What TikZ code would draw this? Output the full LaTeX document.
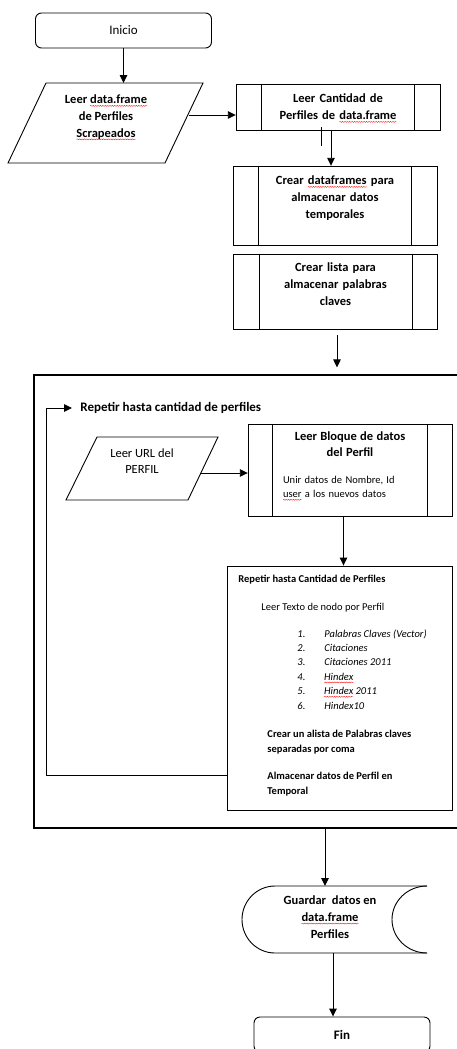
\documentclass[tikz,border=0pt]{standalone}
\usepackage{fontspec}
\setmainfont{Carlito}
\usetikzlibrary{arrows.meta, decorations.pathmorphing}

\newlength{\wavylen}
\newcommand{\wavy}[1]{\leavevmode\settowidth{\wavylen}{#1}\rlap{\tikz[overlay, baseline=0pt]\draw[red, line width=0.35pt, sharp corners, decorate, decoration={snake, amplitude=0.5pt, segment length=2.4pt}] (0pt,-2.2pt) -- (\wavylen,-2.2pt);}#1}

\begin{document}
\begin{tikzpicture}[x=1pt, y=-1pt, line width=0.9pt,
    flow/.style={-{Triangle[length=8pt, width=7.5pt]}},
    term/.style={draw, rounded corners=6pt, minimum width=176pt, minimum height=35pt, font=\fontsize{13}{16.7}\selectfont},
    proc/.style={draw, minimum width=204pt, text width=150pt, align=center, font=\bfseries\fontsize{12.5}{16.7}\selectfont},
    bigtxt/.style={align=center, font=\bfseries\fontsize{12.5}{16.7}\selectfont},
    small/.style={anchor=base west, inner sep=0pt, font=\fontsize{10.5}{14.4}\selectfont},
    smallb/.style={small, font=\bfseries\fontsize{10.5}{14.4}\selectfont},
    smalli/.style={small, font=\itshape\fontsize{10.5}{14.4}\selectfont}]

    \useasboundingbox (0,0) rectangle (457,1049);
    \clip (0,0) rectangle (457,1049);

    % inicio
    \node[term] (inicio) at (123.5,30.5) {Inicio};

    % leer data.frame
    \coordinate (dftop) at (46,83);
    \coordinate (dfout) at (189,115);
    \draw (dftop) -- (203,83) -- (165,163) -- (8,163) -- cycle;
    \node[bigtxt] (leerdf) at (106,117) {Leer \wavy{data.frame}\\de Perfiles\\\wavy{Scrapeados}};
    \draw[flow] (inicio) -- (inicio |- dftop);

    % procesos
    \node[proc, minimum height=46pt] (cant) at (338,107) {Leer Cantidad de\\Perfiles de \wavy{data.frame}};
    \node[proc, minimum height=79pt] (crear) at (335,205.5) {Crear \wavy{dataframes} para\\almacenar datos\\temporales\par\kern15pt};
    \node[proc, minimum height=75pt] (lista) at (335.5,291.5) {Crear lista para\\almacenar palabras\\claves\par\kern15pt};
    \foreach \n in {cant, crear, lista}
        \draw ([xshift=26pt]\n.north west) -- ([xshift=26pt]\n.south west)
              ([xshift=-26pt]\n.north east) -- ([xshift=-26pt]\n.south east);

    \draw[flow] (dfout) -- (dfout -| cant.west);
    \draw (321,127) -- (321,146);
    \draw[flow] ([xshift=-7pt]cant.south) -- ([xshift=-7pt]cant.south |- crear.north);
    \draw[flow] ([xshift=1.5pt,yshift=-6pt]lista.south) -- ([xshift=1.5pt,yshift=-38pt]lista.south);

    % ciclo
    \draw[line width=2.2pt] (460,375) -- (34,375) -- (34,828) -- (460,828);
    \node[anchor=west, inner sep=0pt, font=\bfseries\fontsize{13}{16}\selectfont] (rephead) at (80,408) {Repetir hasta cantidad de perfiles};

    \coordinate (urltop) at (97,437);
    \coordinate (urlout) at (200,473);
    \draw (urltop) -- (218,437) -- (188,500) -- (66,500) -- cycle;
    \node[align=center, font=\fontsize{12.5}{16}\selectfont] (url) at (142,461) {Leer URL del\\PERFIL};

    \node[draw, minimum width=204pt, minimum height=92pt, text width=134pt] (bloque) at (350,470)
        {{\centering\bfseries\fontsize{12.5}{16.7}\selectfont Leer Bloque de datos\\del Perfil\par}\vspace{12pt}%
         {\raggedright\fontsize{10.5}{14.4}\selectfont Unir datos de Nombre, Id\\\wavy{user} a los nuevos datos\par}\kern11pt};
    \draw ([xshift=25pt]bloque.north west) -- ([xshift=25pt]bloque.south west)
          ([xshift=-25pt]bloque.north east) -- ([xshift=-25pt]bloque.south east);
    \draw[flow] (urlout) -- (urlout -| bloque.west);

    \node[draw, minimum width=225pt, minimum height=244pt] (repbox) at (339.5,688) {};
    \draw[flow] ([xshift=-6.5pt]bloque.south) -- ([xshift=-6.5pt]bloque.south |- repbox.north);

    \node[smallb] (t1) at (238,582) {Repetir hasta Cantidad de Perfiles};
    \node[small] (t2) at (261,610) {Leer Texto de nodo por Perfil};
    \foreach \k/\entry in {1/Palabras Claves (Vector), 2/Citaciones, 3/Citaciones 2011,
                           4/\wavy{Hindex}, 5/\wavy{Hindex} 2011, 6/Hindex10} {
        \node[smalli] (num\k) at (297,622.6+14.4*\k) {\k.};
        \node[smalli] (item\k) at (324,622.6+14.4*\k) {\entry};
    }
    \node[smallb, anchor=north west, align=left] (t3) at (267,730) {Crear un alista de Palabras claves\\separadas por coma};
    \node[smallb, anchor=north west, align=left] (t4) at (267,772) {Almacenar datos de Perfil en\\Temporal};

    \coordinate (loopcorner) at (46,775);
    \draw[flow] (repbox.west |- loopcorner) -- (loopcorner) |- ([xshift=-8pt]rephead.west);

    % guardar
    \coordinate (gtop) at (275,886);
    \coordinate (gbot) at (333,953);
    \coordinate (framebot) at (325,828);
    \draw (427,886) -- (gtop) arc[start angle=90, end angle=270, x radius=33pt, y radius=33.5pt] -- (427,953);
    \draw (427,886) arc[start angle=90, end angle=270, x radius=35pt, y radius=33.5pt];
    \node[bigtxt] (guardar) at (330,917) {Guardar~ datos en\\\wavy{data.frame}\\Perfiles};
    \draw[flow] (framebot) -- (framebot |- gtop);

    % fin
    \node[term, font=\bfseries\fontsize{13}{16.7}\selectfont] (fin) at (342,1034.5) {Fin};
    \draw[flow] (gbot) -- (gbot |- fin.north);
\end{tikzpicture}
\end{document}
